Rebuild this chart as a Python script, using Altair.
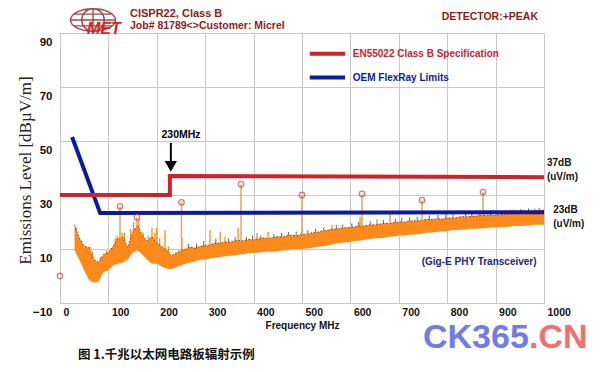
import altair as alt
import pandas as pd

# ---------------- data ----------------
# measured emissions band (orange trace): upper / lower envelope, every 10 MHz
band_freq = list(range(30, 1001, 10))
band_hi = [19, 14, 11, 10.5, 6, 5, 8, 8.5, 11, 14,
           14.5, 10.5, 16, 19, 15, 13, 14.5, 12, 11, 9.5,
           7.5, 8.5, 9.5, 10, 10.8, 10.2, 11, 11.2, 11.5, 12.2,
           12, 12.6, 12.4, 13, 13.2, 13, 13.6, 13.4, 13.7, 14.1,
           13.9, 14.2, 14.6, 14.4, 15, 15.1, 14.9, 15.5, 15.4, 16,
           16.1, 16.6, 16.9, 17.2, 17.4, 17.6, 18, 17.9, 18.2, 18.6,
           18.5, 19, 18.9, 19.2, 19.5, 19.4, 19.7, 20, 19.9, 20.2,
           20.5, 20.4, 20.7, 21, 20.9, 21.2, 21.1, 21.5, 21.4, 21.7,
           22, 21.9, 22.1, 22.2, 22.5, 22.4, 22.6, 22.5, 22.7, 23,
           22.9, 23.2, 23.5, 23.4, 23.9, 24, 24.1, 24.4]
band_lo = [9.5, 6, 2, -1.5, -2.5, -2, 1.5, 2, 4, 4.5,
           5, 6, 8.5, 9.5, 8, 6, 4.5, 4.5, 3.5, 2.8,
           2.5, 3.2, 4, 4.5, 5, 5.5, 6, 6, 6.5, 6.8,
           7, 7.2, 7.5, 7.6, 8, 8.1, 8.5, 8.5, 8.6, 8.9,
           9, 9, 9.1, 9.4, 9.5, 9.8, 10, 10, 10.2, 10.4,
           10.7, 11, 11.2, 11.6, 12, 12.1, 12.5, 12.6, 13, 13.1,
           13.4, 13.6, 14, 14, 14.2, 14.5, 14.6, 15, 15, 15.2,
           15.4, 15.5, 15.7, 16, 16.1, 16.4, 16.5, 16.6, 17, 17,
           17.1, 17.2, 17.5, 17.5, 17.6, 17.7, 18, 18, 18.1, 18.1,
           18.3, 18.5, 18.5, 18.6, 18.7, 19, 19, 19]

# narrow orange spikes rising above the band
spike_freq = [33, 44, 57, 62, 67, 84, 96, 106, 114, 118, 128, 133, 146, 152, 163,
              172, 182, 190, 196, 200, 206, 217, 224, 252, 310, 331, 341, 368, 407,
              430, 500, 562, 620, 655, 682, 745, 875, 981]
spike_base = [14, 10, 5, 10, 6, 4, 7, 9, 11.5, 13, 14, 13, 13, 15, 17,
              14, 13.5, 14, 13, 12, 11.5, 10, 8.5, 9.5, 11.5, 12, 12.5, 13, 13.5,
              14, 15.5, 17, 18.5, 19, 19.5, 20.5, 22.5, 24]
spike_top = [18, 13, 10, 11, 9, 7, 9.5, 10.5, 14, 15, 16, 16, 17.5, 20, 21,
             16, 15, 18, 16, 17.8, 14, 17, 11, 14, 17, 16.3, 14.4, 17.8, 15.9,
             16.3, 17, 19, 21.9, 21, 23.3, 21, 23.5, 25]

# small dark spikes along the top of the band
dspike_freq = [265, 282, 297, 322, 348, 362, 385, 398, 415, 442, 458, 472, 488, 512,
               528, 545, 571, 584, 603, 617, 641, 668, 693, 706, 722, 738, 763, 781,
               797, 812, 838, 851, 866, 889, 903, 921, 937, 952, 968, 990]
dspike_base = [10.4, 10.3, 11.1, 12.1, 12.5, 13, 13.3, 13.5, 13.9, 14.3, 14.4, 15, 15,
               15.5, 16.1, 16.8, 17.4, 17.8, 18, 18.5, 19, 19.4, 19.8, 20, 20.3, 20.4,
               21, 21.2, 21.4, 21.6, 22, 22.1, 22.4, 22.6, 22.6, 23, 23.1, 23.5, 23.8, 24.1]
dspike_top = [12, 12, 13, 13.8, 14, 14.5, 14.6, 15, 15, 15.6, 16, 16.3, 16.5, 17,
              17.6, 18, 18.8, 19, 19.5, 20, 20.3, 20.8, 21.2, 21.5, 21.7, 22, 22.4,
              22.6, 22.8, 23, 23.3, 23.6, 23.8, 24, 24, 24.3, 24.5, 24.8, 25, 25.3]

# peak markers (circles) with stems
peak_freq = [124, 159, 251, 374, 500, 624, 748, 874]
peak_level = [25.8, 21.8, 27.3, 34, 30, 30.4, 28.1, 31.1]
peak_stem_base = [14, 18, 9.5, 13.2, 15.5, 18.5, 20.5, 22.5]
marker_freq = [0] + peak_freq
marker_level = [0] + peak_level

# limit lines
en_freq = [0, 227, 227, 1000]
en_level = [30, 30, 37, 36.6]
oem_freq = [25, 83, 1000]
oem_level = [51.5, 23.3, 23.6]

x_ticks = list(range(0, 1001, 100))
y_grid = list(range(-10, 91, 10))

# ---------------- styling ----------------
SANS = "Liberation Sans, Arial, sans-serif"
SERIF = "Liberation Serif, DejaVu Serif, serif"
DARKRED = "#8e1c1c"
RED = "#d0222a"
BLUE = "#0c1aa0"
ORANGE = "#ff8a1c"
DARK = "#4e1a0a"

band_df = pd.DataFrame({"f": band_freq, "L": band_hi, "L2": band_lo})
spike_df = pd.DataFrame({"f": spike_freq, "L": spike_top, "L2": spike_base})
dspike_df = pd.DataFrame({"f": dspike_freq, "L": dspike_top, "L2": dspike_base})
stem_df = pd.DataFrame({"f": peak_freq, "L": peak_level, "L2": peak_stem_base})
marker_df = pd.DataFrame({"f": marker_freq, "L": marker_level})
en_df = pd.DataFrame({"f": en_freq, "L": en_level, "i": list(range(len(en_freq)))})
oem_df = pd.DataFrame({"f": oem_freq, "L": oem_level})

xscale = alt.Scale(domain=[0, 1000], nice=False, zero=False)
yscale = alt.Scale(domain=[-10, 90], nice=False, zero=False)

x_axis = alt.Axis(values=x_ticks, format="d", title="Frequency MHz", labelAlign="left",
                  labelOffset=3, labelFlush=False, labelOverlap=False,
                  labelPadding=4, labelBaseline="top", ticks=False, domain=False,
                  gridColor="#c9c9c9", labelFont=SANS, labelFontSize=10.5,
                  labelFontWeight="bold", labelColor="#111111",
                  titleFont=SANS, titleFontSize=10, titleFontWeight="bold",
                  titleColor="#111111", titlePadding=3)
y_axis = alt.Axis(values=y_grid,
                  labelExpr="abs(datum.value % 20) == 10 ? datum.label : ''",
                  labelOffset=9, labelPadding=8, labelFlush=False,
                  labelOverlap=False, ticks=False, domain=False,
                  gridColor="#c9c9c9", labelFont=SANS, labelFontSize=11.5,
                  labelFontWeight="bold", labelColor="#111111",
                  title="Emissions Level [dBµV/m]", titleFont=SERIF,
                  titleFontSize=17, titleFontWeight="normal",
                  titleColor="#222222", titleX=-35, titleY=137, titleAngle=270,
                  titleAlign="center", titleBaseline="middle")

X = alt.X("f:Q", scale=xscale, axis=x_axis)
Y = alt.Y("L:Q", scale=yscale, axis=y_axis)

band = alt.Chart(band_df).mark_area(color=ORANGE, opacity=1).encode(
    x=X, y=Y, y2="L2:Q")
spikes = alt.Chart(spike_df).mark_rule(color=ORANGE, strokeWidth=1.3).encode(
    x="f:Q", y="L:Q", y2="L2:Q")
dark = alt.Chart(band_df).mark_line(color=DARK, strokeWidth=1, opacity=0.65,
                                    strokeDash=[2, 1.5]).encode(x="f:Q", y="L:Q")
dspikes = alt.Chart(dspike_df).mark_rule(color=DARK, strokeWidth=1, opacity=0.7).encode(
    x="f:Q", y="L:Q", y2="L2:Q")
stems = alt.Chart(stem_df).mark_rule(color="#eaa45e", strokeWidth=1.5).encode(
    x="f:Q", y="L:Q", y2="L2:Q")
oem = alt.Chart(oem_df).mark_line(color=BLUE, strokeWidth=4).encode(
    x="f:Q", y="L:Q")
en = alt.Chart(en_df).mark_line(color=RED, strokeWidth=4).encode(
    x="f:Q", y="L:Q", order="i:Q")
markers = alt.Chart(marker_df).mark_point(shape="circle", filled=False, color="#c64848",
                                          size=30, strokeWidth=1.3).encode(x="f:Q", y="L:Q")

# legend (data coordinates inside the plot)
leg_df = pd.DataFrame({"f": [516, 516], "f2": [589, 589], "L": [82.3, 73.5],
                       "t": ["EN55022 Class B Specification", "OEM FlexRay Limits"],
                       "c": [RED, BLUE]})
leg_lines = alt.Chart(leg_df).mark_rule(strokeWidth=4).encode(
    x="f:Q", x2="f2:Q", y="L:Q", color=alt.Color("c:N", scale=None))
leg_text = alt.Chart(leg_df).mark_text(align="left", baseline="middle", dx=43,
                                       font=SANS, fontSize=10, fontWeight="bold").encode(
    x="f:Q", y="L:Q", text="t:N", color=alt.Color("c:N", scale=None))

# 230 MHz arrow
arrow_df = pd.DataFrame({"f": [229], "L": [49.3], "L2": [42]})
arrow_shaft = alt.Chart(arrow_df).mark_rule(color="black", strokeWidth=2).encode(
    x="f:Q", y="L:Q", y2="L2:Q")
arrow_head = alt.Chart(pd.DataFrame({"f": [229], "L": [40.6]})).mark_point(
    shape="triangle-down", filled=True, color="black", size=150, opacity=1).encode(
    x="f:Q", y="L:Q")
arrow_text = alt.Chart(pd.DataFrame({"f": [250], "L": [52.3], "t": ["230MHz"]})).mark_text(
    font=SANS, fontSize=10.5, fontWeight="bold", color="black", baseline="middle").encode(
    x="f:Q", y="L:Q", text="t:N")

# right-hand annotations
side_df = pd.DataFrame({"f": [1006, 1006, 1019, 1019], "L": [41.9, 36.7, 24.4, 19.3],
                        "t": ["37dB", "(uV/m)", "23dB", "(uV/m)"]})
side_text = alt.Chart(side_df).mark_text(align="left", baseline="middle", font=SANS,
                                         fontSize=10, fontWeight="bold", color="#111111").encode(
    x="f:Q", y="L:Q", text="t:N")
gig_text = alt.Chart(pd.DataFrame({"f": [866], "L": [5.2], "t": ["(Gig-E PHY Transceiver)"]})).mark_text(
    font=SANS, fontSize=10, fontWeight="bold", color="#1a2590", baseline="middle").encode(
    x="f:Q", y="L:Q", text="t:N")


def label(text, px, py, **kw):
    return alt.Chart(pd.DataFrame({"t": [text]})).mark_text(**kw).encode(
        x=alt.value(px), y=alt.value(py), text="t:N")


globe_path = ("M-1,0A1,0.5,0,1,0,1,0A1,0.5,0,1,0,-1,0"
              "M-0.5,0A0.5,0.5,0,1,0,0.5,0A0.5,0.5,0,1,0,-0.5,0"
              "M0,-0.5L0,0.5M-1,0L1,0M-0.85,-0.26L0.85,-0.26M-0.85,0.26L0.85,0.26")
globe = alt.Chart(pd.DataFrame({"t": [""]})).mark_point(
    shape=globe_path, filled=False, color="#a54545", size=2025, strokeWidth=1.4, opacity=1).encode(
    x=alt.value(33), y=alt.value(-13))
met = label("MET", 44, -4, font=SANS, fontSize=16, fontWeight="bold", fontStyle="italic",
            color="#d42424", baseline="middle", align="center")
h1 = label("CISPR22, Class B", 70, -19, font=SANS, fontSize=11, fontWeight="bold",
           color=DARKRED, align="left", baseline="middle")
h2 = label("Job# 81789<>Customer: Micrel", 70, -7, font=SANS, fontSize=10.5, fontWeight="bold",
           color=DARKRED, align="left", baseline="middle")
det = label("DETECTOR:+PEAK", 478, -16, font=SANS, fontSize=10.5, fontWeight="bold",
            color=DARKRED, align="right", baseline="middle")
caption = label("图 1.千兆以太网电路板辐射示例", 18, 322, font="Noto Sans CJK SC", fontSize=12.5,
                fontWeight="bold", color="#111111", align="left", baseline="middle")
wm1 = label("CK365", 363, 305, font=SANS, fontSize=34, fontWeight="bold",
            color="#6f7ee6", align="left", baseline="middle")
wm2 = label(".CN", 469, 305, font=SANS, fontSize=34, fontWeight="bold",
            color="#f27070", align="left", baseline="middle")

chart = alt.layer(
    band, spikes, dark, dspikes, stems, oem, en, markers,
    leg_lines, leg_text, arrow_shaft, arrow_head, arrow_text, side_text, gig_text,
    globe, met, h1, h2, det, caption, wm1, wm2
).properties(
    width=484, height=270,
    autosize=alt.AutoSizeParams(type="none"),
    padding={"left": 52, "top": 25, "right": 48, "bottom": 61},
).configure_view(stroke="#c0c0c0", strokeWidth=1)

chart.save("out.html", embed_options={"renderer": "svg", "actions": False})
